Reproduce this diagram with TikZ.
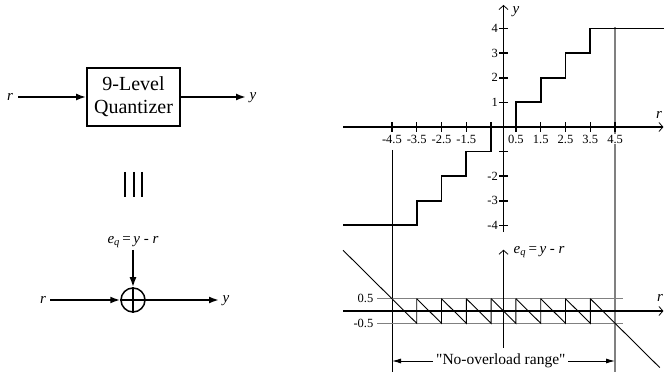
\documentclass[tikz,border=0pt]{standalone}
\usepackage{fontspec}
\setmainfont{Liberation Serif}[Ligatures=TeXOff]
\usetikzlibrary{arrows.meta}
\begin{document}
\begin{tikzpicture}[x=1pt,y=-1pt,
  sig/.style={line width=1.8pt,-{Latex[length=10pt,width=7pt]}},
  axisline/.style={line width=1.8pt,-{Straight Barb[length=4pt,width=9pt,line width=0.8pt]}},
  tickmark/.style={line width=1.5pt},
  stair/.style={line width=1.8pt,line join=miter},
  thinline/.style={line width=0.9pt},
  grayline/.style={line width=1.3pt,draw=black!50},
  lbl/.style={inner sep=1pt,font=\fontsize{15}{17}\selectfont},
  ticklbl/.style={inner sep=0.5pt,font=\fontsize{12.5}{14}\selectfont}]
\useasboundingbox (0,0) rectangle (664,379);

% ---- block diagram ----
\node[draw,line width=1.8pt,minimum width=93pt,minimum height=58pt,align=center,
  inner sep=1pt,font=\fontsize{20}{23}\selectfont] (q) at (133.5,97) {9-Level\\Quantizer};
\node[lbl] (rl) at (10,97) {\textit{r}};
\coordinate (rin) at (18,97);
\coordinate (yout) at (246,97);
\node[lbl] (yl) at (253,98) {\textit{y}};
\draw[sig] (rin) -- (q.west);
\draw[sig] (q.east) -- (yout);

% equivalence bars
\draw[line width=2pt] (125,172) -- (125,197) (133.5,172) -- (133.5,197) (142,172) -- (142,197);

% summing junction
\node[draw,circle,line width=1.5pt,minimum size=24pt,inner sep=0pt] (s) at (133,300) {};
\draw[line width=1.5pt] (s.north) -- (s.south) (s.west) -- (s.east);
\node[lbl] (el) at (133,242) {\textit{e}\textsubscript{\textit{q}}\,=\,\textit{y} - \textit{r}};
\coordinate (ein) at (133,250);
\node[lbl] (rl2) at (43,300) {\textit{r}};
\coordinate (rin2) at (50,300);
\coordinate (yout2) at (219,300);
\node[lbl] (yl2) at (226,301) {\textit{y}};
\draw[sig] (ein) -- (s.north);
\draw[sig] (rin2) -- (s.west);
\draw[sig] (s.east) -- (yout2);

% ---- vertical guide lines ----
\draw[thinline] (392,150) -- (392,372);
\draw[grayline] (615,27) -- (615,372);

% ---- top graph ----
\begin{scope}[shift={(503.5,127)},x=24.8pt,y=24.6pt]
  \draw[axisline] (-6.47,0) -- (6.45,0);
  \draw[axisline] (0,-4.27) -- (0,4.96);
  \foreach \k in {-4.5,-3.5,-2.5,-1.5,-0.5,0.5,1.5,2.5,3.5,4.5}
    \draw[tickmark] (\k,-0.2) -- (\k,0.2);
  \foreach \k in {-4,-3,-2,-1,1,2,3,4}
    \draw[tickmark] (-0.17,\k) -- (0.17,\k);
  \foreach \k in {1,2,3,4,-2,-3,-4}
    \node[ticklbl,anchor=east] at (-0.2,\k) {\k};
  \foreach \k in {-4.5,-3.5,-2.5,-1.5,0.5,1.5,2.5,3.5,4.5}
    \node[ticklbl,fill=white] at (\k,-0.49) {\k};
  \node[lbl] at (0.5,4.68) {\textit{y}};
  \node[lbl] at (6.27,0.5) {\textit{r}};
  \draw[stair] (-6.47,-4) -- (-3.5,-4) -- (-3.5,-3) -- (-2.5,-3) -- (-2.5,-2) -- (-1.5,-2)
    -- (-1.5,-1) -- (-0.5,-1) -- (-0.5,0) -- (0.5,0) -- (0.5,1) -- (1.5,1) -- (1.5,2)
    -- (2.5,2) -- (2.5,3) -- (3.5,3) -- (3.5,4) -- (6.47,4);
\end{scope}

% ---- bottom graph ----
\begin{scope}[shift={(503.5,311)},x=24.8pt,y=24.6pt]
  \draw[grayline] (-5.1,0.5) -- (4.82,0.5);
  \draw[grayline] (-5.1,-0.5) -- (4.82,-0.5);
  \draw[axisline] (-6.47,0) -- (6.45,0);
  \draw[thinline,-{Straight Barb[length=4pt,width=9pt,line width=0.8pt]}] (0,-1.5) -- (0,2.49);
  \node[ticklbl,anchor=east] at (-5.22,0.5) {0.5};
  \node[ticklbl,anchor=east] at (-5.22,-0.5) {-0.5};
  \node[lbl] at (6.31,0.55) {\textit{r}};
  \node[lbl,anchor=west] at (0.36,2.4) {\textit{e}\textsubscript{\textit{q}}\,=\,\textit{y} - \textit{r}};
  \draw[thinline] (-6.47,2.47) -- (-3.5,-0.5) -- (-3.5,0.5);
  \foreach \k in {-3,...,3}
    \draw[thinline] (\k-0.5,0.5) -- (\k+0.5,-0.5) -- (\k+0.5,0.5);
  \draw[thinline] (3.5,0.5) -- (6.3,-2.3);
\end{scope}

% ---- no-overload range ----
\coordinate (nl) at (392,361);
\coordinate (nr) at (615,361);
\draw[line width=1pt,{Latex[length=9pt,width=5pt]}-{Latex[length=9pt,width=5pt]}] (nl) -- (nr)
  node[pos=0.488,fill=white,inner xsep=3pt,inner ysep=1pt,font=\fontsize{15.5}{17}\selectfont] (nol) {"No-overload range"};
\end{tikzpicture}
\end{document}
